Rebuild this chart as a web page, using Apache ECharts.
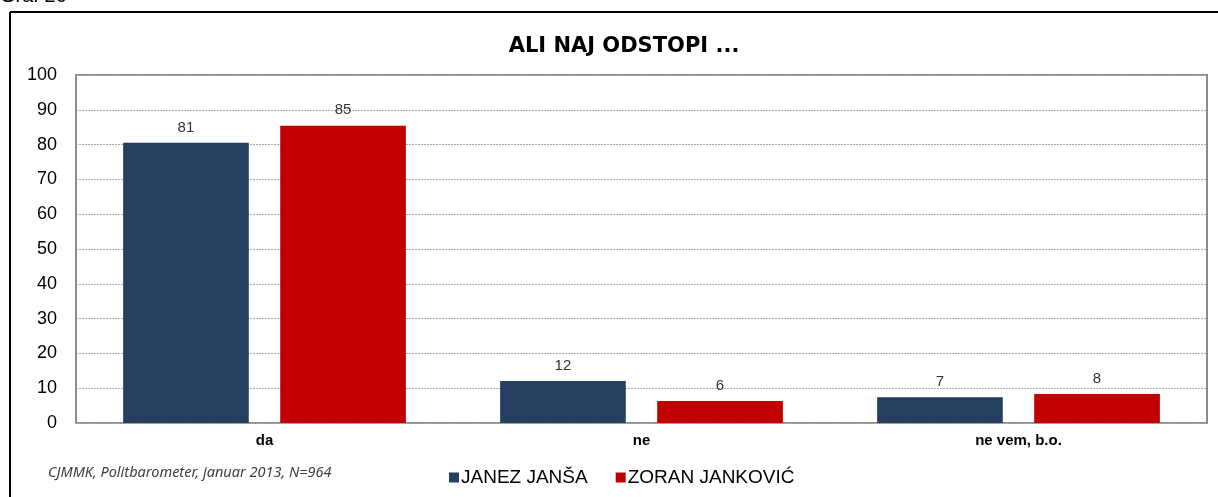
<!DOCTYPE html>
<html>
<head>
<meta charset="utf-8">
<script src="https://cdn.jsdelivr.net/npm/echarts@6/dist/echarts.min.js"></script>
<style>
  html, body { margin: 0; padding: 0; background: #fff; }
  #chart { width: 1218px; height: 497px; }
</style>
</head>
<body>
<div id="chart"></div>
<script>
// podatki
var categories = ['da', 'ne', 'ne vem, b.o.'];
var jansa = [80.5, 12.1, 7.4];
var jankovic = [85.4, 6.3, 8.3];
var seriesNames = ['JANEZ JANŠA', 'ZORAN JANKOVIĆ'];
var yTicks = [0, 10, 20, 30, 40, 50, 60, 70, 80, 90, 100];

var chart = echarts.init(document.getElementById('chart'), null, { renderer: 'canvas' });

var labelStyle = {
  show: true,
  position: 'top',
  distance: 8,
  color: '#333',
  fontFamily: 'Liberation Sans',
  fontSize: 15,
  formatter: function (p) { return Math.round(p.value); }
};

var option = {
  animation: false,
  title: {
    text: 'ALI NAJ ODSTOPI ...',
    left: 619,
    textAlign: 'center',
    top: 31,
    textStyle: { fontFamily: 'DejaVu Sans', fontSize: 21, fontWeight: 'bold', color: '#000' }
  },
  legend: {
    data: seriesNames,
    left: 444,
    top: 463,
    itemWidth: 10,
    itemHeight: 10,
    itemGap: 28,
    icon: 'rect',
    textStyle: { fontFamily: 'Liberation Sans', fontSize: 19, color: '#000', padding: [0, 0, 0, -3] }
  },
  grid: {
    left: 76,
    right: 11,
    top: 75,
    bottom: 74,
    show: true,
    borderColor: '#8c8c8c',
    borderWidth: 2,
    backgroundColor: '#fff'
  },
  xAxis: {
    type: 'category',
    data: categories,
    axisLine: { show: false },
    axisTick: { show: false },
    axisLabel: {
      margin: 10,
      fontFamily: 'Liberation Sans',
      fontSize: 15,
      fontWeight: 'bold',
      color: '#000'
    }
  },
  yAxis: {
    type: 'value',
    min: yTicks[0],
    max: yTicks[yTicks.length - 1],
    interval: 10,
    axisLine: { show: false },
    axisTick: { show: false },
    axisLabel: {
      margin: 19,
      fontFamily: 'Liberation Sans',
      fontSize: 18,
      color: '#000'
    },
    splitLine: { lineStyle: { color: '#ababab', type: [2, 1], width: 1 } }
  },
  series: [
    {
      name: seriesNames[0],
      type: 'bar',
      data: jansa,
      barGap: '25%',
      barCategoryGap: '25%',
      itemStyle: { color: '#243F60' },
      label: labelStyle
    },
    {
      name: seriesNames[1],
      type: 'bar',
      data: jankovic,
      itemStyle: { color: '#C00000' },
      label: labelStyle
    }
  ],
  graphic: [
    // okvir
    { type: 'line', shape: { x1: 10, y1: 12, x2: 1218, y2: 12 }, style: { stroke: '#000', lineWidth: 2 }, silent: true },
    { type: 'line', shape: { x1: 10, y1: 12, x2: 10, y2: 497 }, style: { stroke: '#000', lineWidth: 2 }, silent: true },
    {
      type: 'text', left: 0, top: -14,
      style: { text: 'Graf 26', fontFamily: 'Liberation Sans', fontSize: 20, fill: '#000' }
    },
    {
      type: 'text', left: 48, top: 465,
      style: { text: 'CJMMK, Politbarometer, januar 2013, N=964', fontFamily: 'Noto Sans', fontStyle: 'italic', fontSize: 14.5, fill: '#404040' }
    }
  ]
};

chart.setOption(option);
</script>
</body>
</html>
